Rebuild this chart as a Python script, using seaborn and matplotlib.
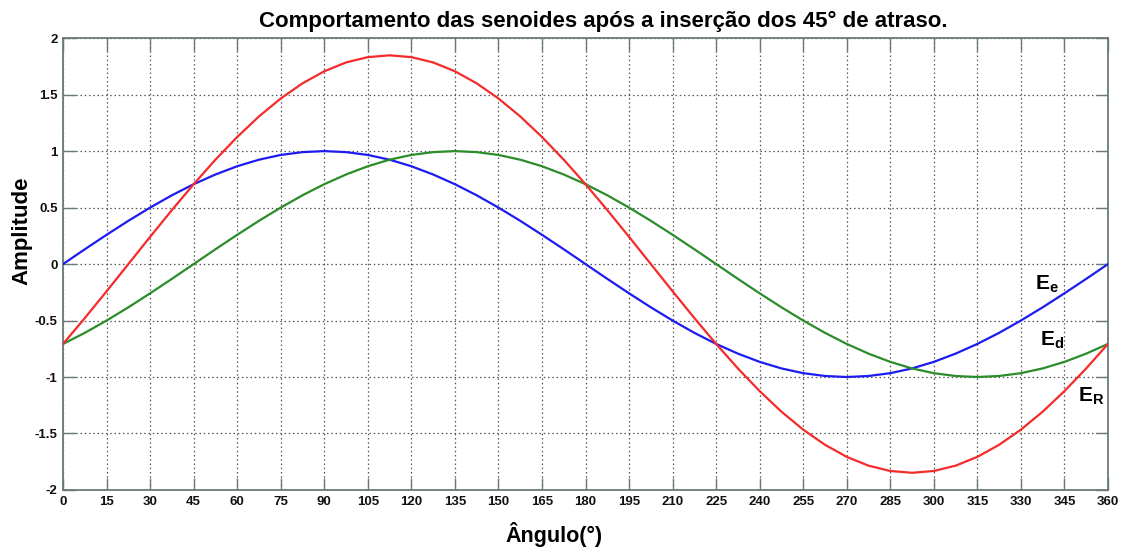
import numpy as np
import pandas as pd
import seaborn as sns
import matplotlib
matplotlib.use('Agg')
import matplotlib.pyplot as plt

# angles (degrees) and the three curves
angulo = np.arange(0, 360.1, 7.5)
e_e = [0, .131, .259, .383, .5, .609, .707, .793, .866, .924, .966, .991, 1,
       .991, .966, .924, .866, .793, .707, .609, .5, .383, .259, .131, 0,
       -.131, -.259, -.383, -.5, -.609, -.707, -.793, -.866, -.924, -.966, -.991, -1,
       -.991, -.966, -.924, -.866, -.793, -.707, -.609, -.5, -.383, -.259, -.131, 0]
e_d = [-.707, -.609, -.5, -.383, -.259, -.131, 0, .131, .259, .383, .5, .609, .707,
       .793, .866, .924, .966, .991, 1, .991, .966, .924, .866, .793, .707,
       .609, .5, .383, .259, .131, 0, -.131, -.259, -.383, -.5, -.609, -.707,
       -.793, -.866, -.924, -.966, -.991, -1, -.991, -.966, -.924, -.866, -.793, -.707]
e_r = [-.707, -.478, -.241, 0, .241, .478, .707, .924, 1.125, 1.307, 1.466, 1.600, 1.707,
       1.785, 1.832, 1.848, 1.832, 1.785, 1.707, 1.600, 1.466, 1.307, 1.125, .924, .707,
       .478, .241, 0, -.241, -.478, -.707, -.924, -1.125, -1.307, -1.466, -1.600, -1.707,
       -1.785, -1.832, -1.848, -1.832, -1.785, -1.707, -1.600, -1.466, -1.307, -1.125, -.924, -.707]

x_ticks = list(range(0, 361, 15))
y_ticks = [-2, -1.5, -1, -0.5, 0, 0.5, 1, 1.5, 2]
y_ticklabels = ['-2', '-1.5', '-1', '-0.5', '0', '0.5', '1', '1.5', '2']

sns.set_style('white')
plt.rcParams['font.family'] = ['Liberation Sans', 'DejaVu Sans']
plt.rcParams['text.color'] = 'black'
plt.rcParams['axes.labelcolor'] = 'black'
plt.rcParams['mathtext.fontset'] = 'custom'
plt.rcParams['mathtext.rm'] = 'Liberation Sans:bold'
plt.rcParams['mathtext.it'] = 'Liberation Sans:bold'
plt.rcParams['mathtext.bf'] = 'Liberation Sans:bold'

df = pd.concat([
    pd.DataFrame({'angulo': angulo, 'amp': e_e, 'serie': 'Ee'}),
    pd.DataFrame({'angulo': angulo, 'amp': e_d, 'serie': 'Ed'}),
    pd.DataFrame({'angulo': angulo, 'amp': e_r, 'serie': 'ER'}),
])
palette = {'Ee': '#1c1cf0', 'Ed': '#2a8c2a', 'ER': '#f52a2a'}

fig = plt.figure(figsize=(11.26, 5.53), dpi=100)
ax = fig.add_axes([0.056, 0.114, 0.928, 0.817])

sns.lineplot(data=df, x='angulo', y='amp', hue='serie', palette=palette,
             linewidth=1.6, legend=False, ax=ax, zorder=5)

ax.set_xlim(0, 360)
ax.set_ylim(-2, 2)
ax.set_xticks(x_ticks)
ax.set_yticks(y_ticks)
ax.set_yticklabels(y_ticklabels)
for lbl in ax.get_xticklabels() + ax.get_yticklabels():
    lbl.set_fontweight('bold')
    lbl.set_fontsize(9.5)
    lbl.set_color('#111111')

ax.grid(True, linestyle=(0, (1.2, 2.2)), color='#555555', linewidth=0.9)
for sp in ax.spines.values():
    sp.set_color('#6a7a7a')
    sp.set_linewidth(1.3)
ax.tick_params(direction='in', length=9, width=1, color='#6a7a7a',
               top=True, right=True, bottom=True, left=True, pad=4)

fig.text(0.536, 0.962, 'Comportamento das senoides após a inserção dos 45° de atraso.',
         fontsize=16, fontweight='bold', ha='center', va='center', color='black')
ax.set_xlabel('Ângulo(°)', fontsize=15.5, fontweight='bold', color='black')
ax.xaxis.set_label_coords(0.47, -0.07)
ax.set_ylabel('Amplitude', fontsize=16, fontweight='bold', color='black')
ax.yaxis.set_label_coords(-0.029, 0.573)

ax.text(335, -0.23, r'$\mathbf{E_e}$', fontsize=15, ha='left', va='baseline', zorder=6, color='black')
ax.text(336.5, -0.72, r'$\mathbf{E_d}$', fontsize=15, ha='left', va='baseline', zorder=6, color='black')
ax.text(349.6, -1.22, r'$\mathbf{E_R}$', fontsize=15, ha='left', va='baseline', zorder=6, color='black')

fig.savefig('out.png', dpi=100, facecolor='white')
plt.close(fig)
